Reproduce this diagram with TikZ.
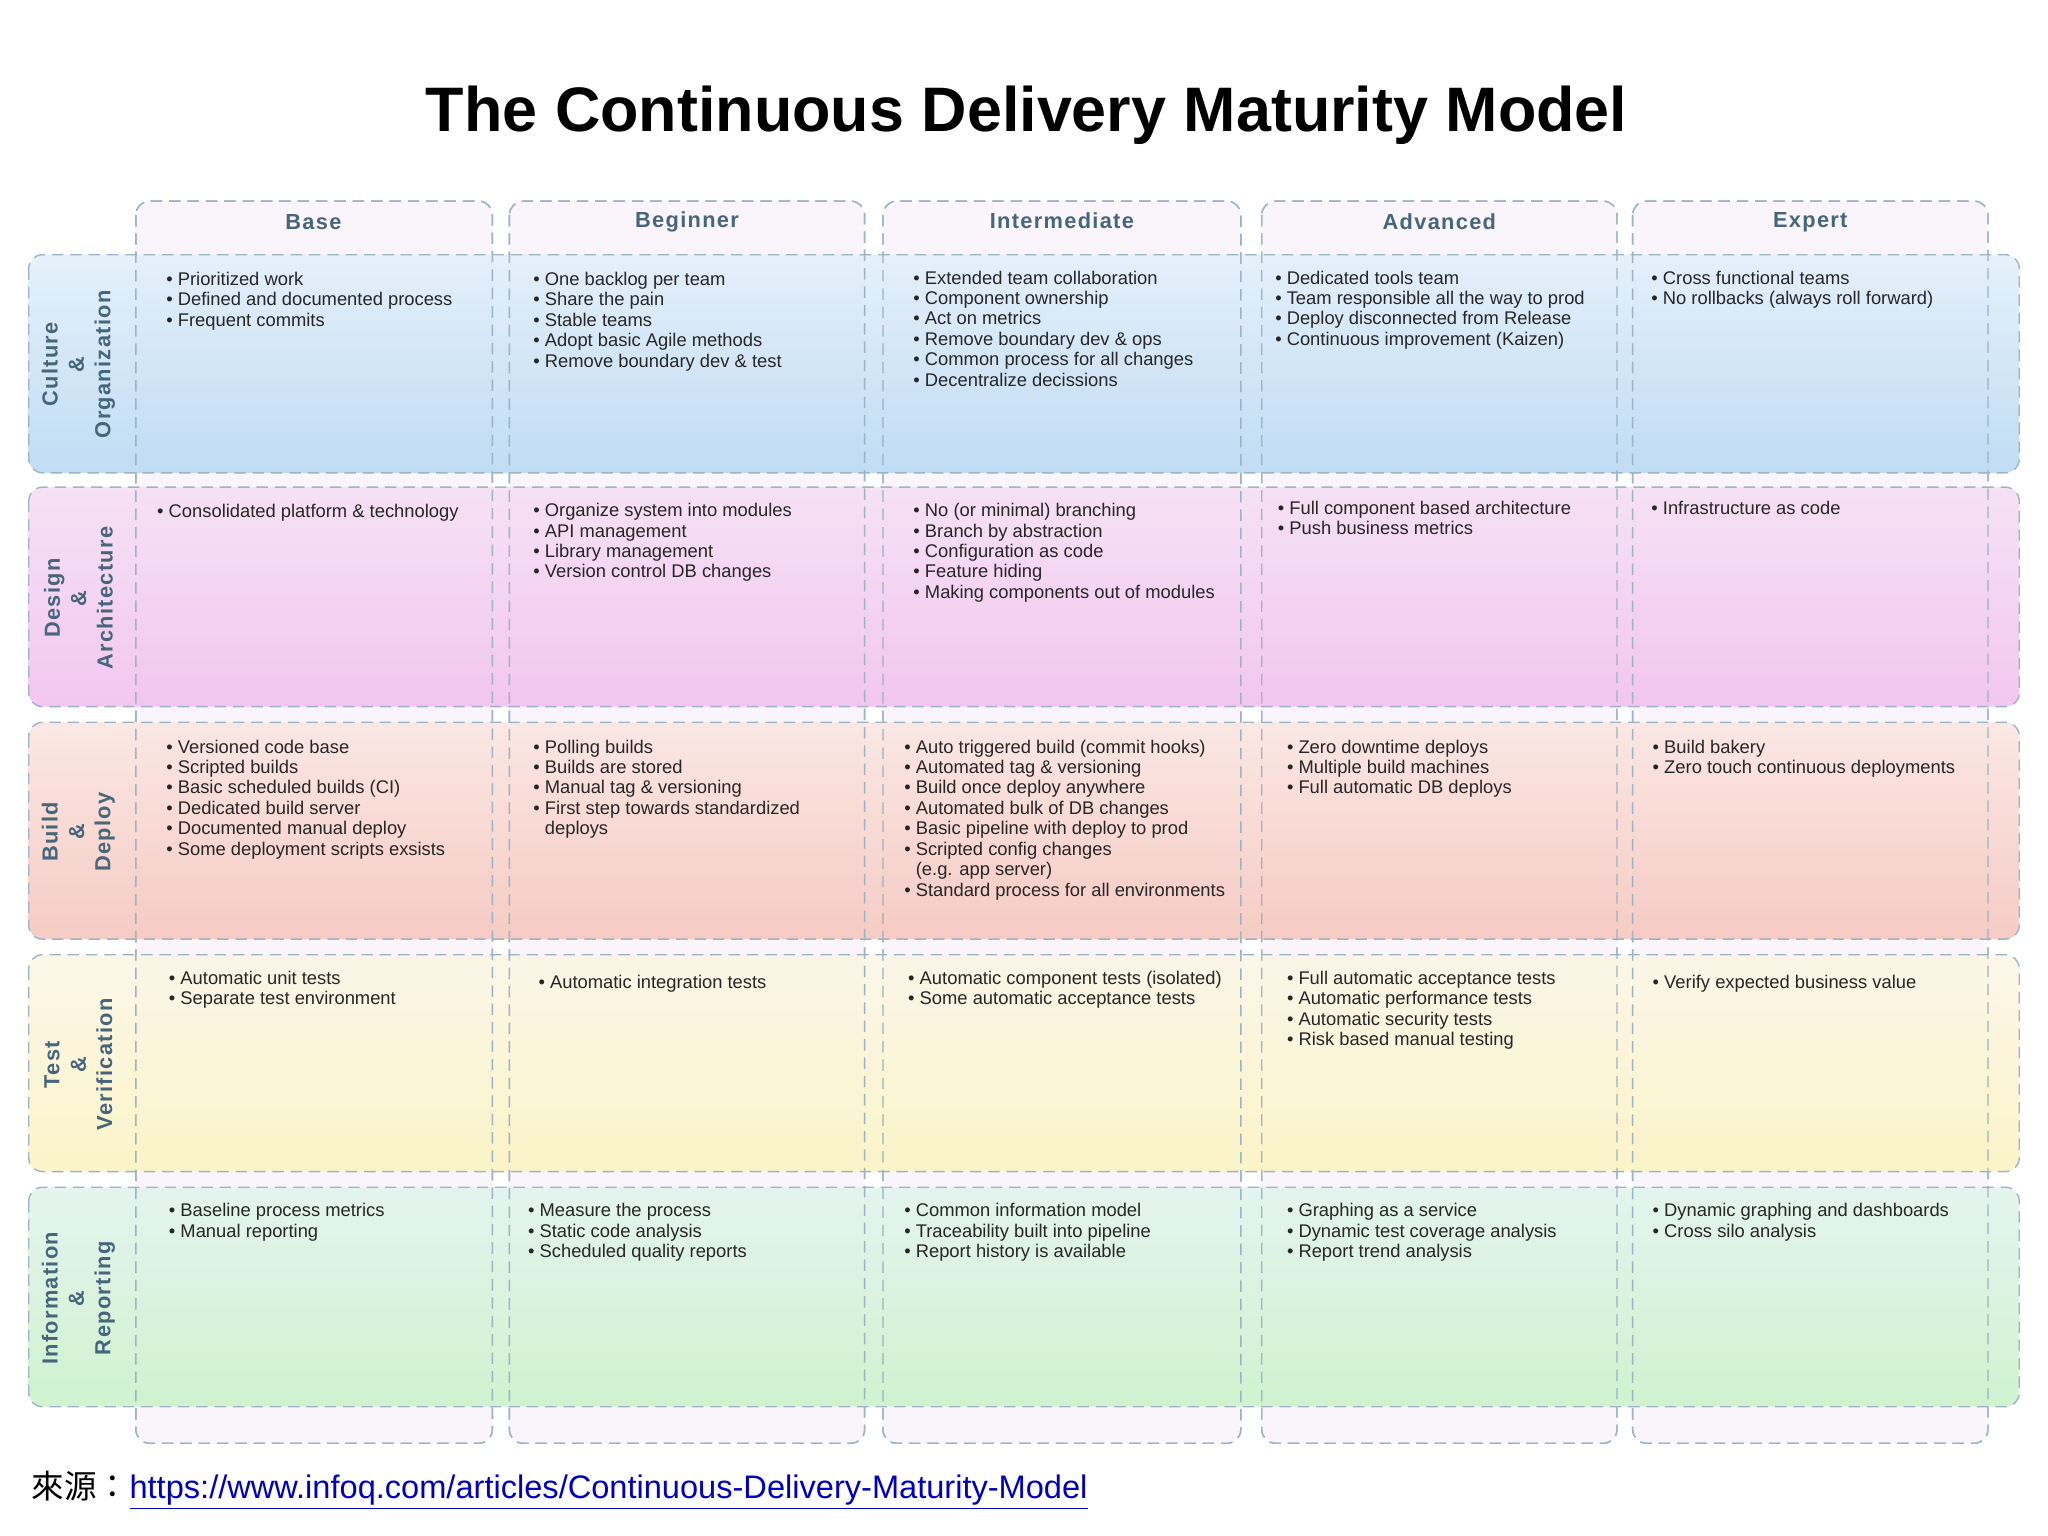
\documentclass[tikz,border=0pt]{standalone}
\usepackage{fontspec}
\setmainfont{Liberation Sans}
\newfontfamily\cjk{Noto Sans CJK TC}
\definecolor{hdr}{HTML}{46667C}
\definecolor{dsh}{HTML}{9DB4C6}
\definecolor{cuT}{HTML}{E3F0FA}
\definecolor{cuB}{HTML}{BCDAF4}
\definecolor{deT}{HTML}{F6E0F4}
\definecolor{deB}{HTML}{F2C2F0}
\definecolor{buT}{HTML}{FBE6E2}
\definecolor{buB}{HTML}{F6C8C0}
\definecolor{teT}{HTML}{FCF6E8}
\definecolor{teB}{HTML}{FBF4C4}
\definecolor{inT}{HTML}{E2F4EE}
\definecolor{inB}{HTML}{CDF2CC}
\begin{document}
\begin{tikzpicture}[x=0.02cm,y=-0.02cm,
  dline/.style={draw=dsh,dashed,dash pattern=on 5pt off 3pt,line width=0.6pt},
  colbox/.style={dline,rounded corners=6pt,fill=violet!4},
  rowbox/.style={dline,rounded corners=6pt},
  head/.style={font=\fontsize{9.5}{11}\selectfont\bfseries\addfontfeatures{LetterSpace=6},text=hdr},
  rlab/.style={font=\fontsize{9.5}{11.5}\selectfont\bfseries\addfontfeatures{LetterSpace=6},text=hdr,rotate=90,align=center},
  cell/.style={anchor=north west,align=left,inner sep=0pt,font=\fontsize{8}{8.9}\selectfont,text=black!85}]
\useasboundingbox (0,0) rectangle (1568,1176);
\fill[white] (0,0) rectangle (1568,1176);
\node[anchor=center] (title) at (786,88) {\resizebox{18.4cm}{!}{\bfseries The Continuous Delivery Maturity Model}};
% columns
\foreach \a/\b in {104/377,390/662,676/950,966/1238,1250/1522}
  \draw[colbox] (\a,154) rectangle (\b,1105);
% rows
\draw[rowbox,top color=cuT,bottom color=cuB,fill opacity=0.92] (22,195) rectangle (1546,362);
\draw[rowbox,top color=deT,bottom color=deB,fill opacity=0.92] (22,373) rectangle (1546,541);
\draw[rowbox,top color=buT,bottom color=buB,fill opacity=0.92] (22,553) rectangle (1546,719);
\draw[rowbox,top color=teT,bottom color=teB,fill opacity=0.92] (22,731) rectangle (1546,897);
\draw[rowbox,top color=inT,bottom color=inB,fill opacity=0.92] (22,909) rectangle (1546,1077);
% redraw column dashes over rows
\foreach \a/\b in {104/377,390/662,676/950,966/1238,1250/1522}
  \draw[dline,rounded corners=6pt] (\a,154) rectangle (\b,1105);
% headers
\node[head] (hBase) at (240,170) {Base};
\node[head] (hBeg) at (526,170) {Beginner};
\node[head] (hInt) at (813,169) {Intermediate};
\node[head] (hAdv) at (1102,170) {Advanced};
\node[head] (hExp) at (1386,170) {Expert};
% row labels
\node[rlab] (rC) at (60,279) {Culture\\\&\\Organization};
\node[rlab] (rD) at (60,458) {Design\\\&\\Architecture};
\node[rlab] (rB) at (60,637) {Build\\\&\\Deploy};
\node[rlab] (rT) at (60,815) {Test\\\&\\Verification};
\node[rlab] (rI) at (60,994) {Information\\\&\\Reporting};
% culture
\node[cell] (c11) at (127,208) {• Prioritized work\\• Defined and documented process\\• Frequent commits};
\node[cell] (c12) at (408,208) {• One backlog per team\\• Share the pain\\• Stable teams\\• Adopt basic Agile methods\\• Remove boundary dev \& test};
\node[cell] (c13) at (699,207) {• Extended team collaboration\\• Component ownership\\• Act on metrics\\• Remove boundary dev \& ops\\• Common process for all changes\\• Decentralize decissions};
\node[cell] (c14) at (976,207) {• Dedicated tools team\\• Team responsible all the way to prod\\• Deploy disconnected from Release\\• Continuous improvement (Kaizen)};
\node[cell] (c15) at (1264,207) {• Cross functional teams\\• No rollbacks (always roll forward)};
% design
\node[cell] (c21) at (120,386) {• Consolidated platform \& technology};
\node[cell] (c22) at (408,385) {• Organize system into modules\\• API management\\• Library management\\• Version control DB changes};
\node[cell] (c23) at (699,385) {• No (or minimal) branching\\• Branch by abstraction\\• Configuration as code\\• Feature hiding\\• Making components out of modules};
\node[cell] (c24) at (978,383) {• Full component based architecture\\• Push business metrics};
\node[cell] (c25) at (1264,383) {• Infrastructure as code};
% build
\node[cell] (c31) at (127,566) {• Versioned code base\\• Scripted builds\\• Basic scheduled builds (CI)\\• Dedicated build server\\• Documented manual deploy\\• Some deployment scripts exsists};
\node[cell] (c32) at (408,566) {• Polling builds\\• Builds are stored\\• Manual tag \& versioning\\• First step towards standardized\\\phantom{• }deploys};
\node[cell] (c33) at (692,566) {• Auto triggered build (commit hooks)\\• Automated tag \& versioning\\• Build once deploy anywhere\\• Automated bulk of DB changes\\• Basic pipeline with deploy to prod\\• Scripted config changes\\\phantom{• }(e.g. app server)\\• Standard process for all environments};
\node[cell] (c34) at (985,566) {• Zero downtime deploys\\• Multiple build machines\\• Full automatic DB deploys};
\node[cell] (c35) at (1265,566) {• Build bakery\\• Zero touch continuous deployments};
% test
\node[cell] (c41) at (129,743) {• Automatic unit tests\\• Separate test environment};
\node[cell] (c42) at (412,746) {• Automatic integration tests};
\node[cell] (c43) at (695,743) {• Automatic component tests (isolated)\\• Some automatic acceptance tests};
\node[cell] (c44) at (985,743) {• Full automatic acceptance tests\\• Automatic performance tests\\• Automatic security tests\\• Risk based manual testing};
\node[cell] (c45) at (1265,746) {• Verify expected business value};
% info
\node[cell] (c51) at (129,921) {• Baseline process metrics\\• Manual reporting};
\node[cell] (c52) at (404,921) {• Measure the process\\• Static code analysis\\• Scheduled quality reports};
\node[cell] (c53) at (692,921) {• Common information model\\• Traceability built into pipeline\\• Report history is available};
\node[cell] (c54) at (985,921) {• Graphing as a service\\• Dynamic test coverage analysis\\• Report trend analysis};
\node[cell] (c55) at (1265,921) {• Dynamic graphing and dashboards\\• Cross silo analysis};
% footer
\node[anchor=west,inner sep=0pt,font=\fontsize{14.2}{16}\selectfont] (src) at (24,1141) {{\cjk 來源：}\textcolor{blue!75!black}{\underline{https://www.infoq.com/articles/Continuous-Delivery-Maturity-Model}}};
\end{tikzpicture}
\end{document}
